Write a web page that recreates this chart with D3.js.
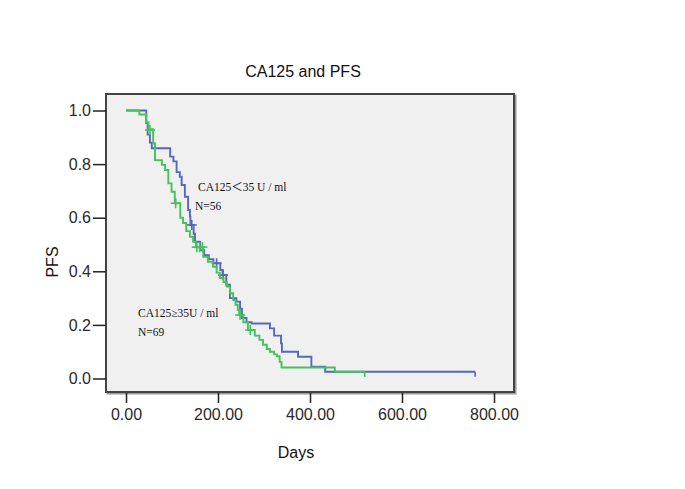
<!DOCTYPE html>
<html><head><meta charset="utf-8">
<script src="https://cdn.jsdelivr.net/npm/d3@7/dist/d3.min.js"></script>
<style>body{margin:0;background:#fff}svg{display:block}</style>
</head><body>
<svg id="c" width="685" height="489"></svg>
<script>
// Kaplan-Meier step data (time in days, survival)
const blueTimes = [0,44,47,52,56,96,103,110,117,121,128,135,139,140,147,150,161,170,180,190,205,210,218,226,240,248,252,262,273,313,322,337,339,374,403,433];
const blueSurv  = [1,0.953,0.91,0.88,0.859,0.828,0.81,0.77,0.753,0.722,0.678,0.629,0.604,0.573,0.54,0.51,0.479,0.46,0.445,0.43,0.405,0.386,0.35,0.30,0.287,0.26,0.226,0.21,0.205,0.187,0.16,0.131,0.10,0.081,0.044,0.025];
const blueEnd = 759;
const blueCensT = [143,197,211];
const blueCensS = [0.573,0.43,0.386];

const greenTimes = [0,29,44,49,59,63,78,85,92,99,106,118,124,131,139,146,152,168,178,189,197,204,212,219,226,233,238,243,246,255,265,280,290,298,306,313,322,328,334,338,454];
const greenSurv  = [1,0.985,0.955,0.93,0.878,0.815,0.797,0.778,0.728,0.697,0.654,0.60,0.58,0.55,0.529,0.51,0.49,0.454,0.435,0.417,0.395,0.375,0.36,0.343,0.318,0.293,0.275,0.256,0.237,0.21,0.181,0.16,0.144,0.126,0.11,0.10,0.09,0.083,0.062,0.041,0.025];
const greenEnd = 519;
const greenCensT = [52,108,154,160,166,248,270];
const greenCensS = [0.927,0.654,0.49,0.49,0.49,0.237,0.181];

const xTicks = [0,200,400,600,800];
const xTickLabels = ["0.00","200.00","400.00","600.00","800.00"];
const yTicks = [0,0.2,0.4,0.6,0.8,1.0];
const yTickLabels = ["0.0","0.2","0.4","0.6","0.8","1.0"];

const svg = d3.select("#c");
const frame = {l:106, t:94, r:514, b:392};
const x = d3.scaleLinear().domain([0,800]).range([126,494]);
const y = d3.scaleLinear().domain([0,1]).range([378.5,110.5]);

// frame with soft shadow
svg.append("rect").attr("x",frame.l+1.5).attr("y",frame.t+1.5)
  .attr("width",frame.r-frame.l).attr("height",frame.b-frame.t)
  .attr("fill","none").attr("stroke","#9a9a9a").attr("stroke-width",2);
svg.append("rect").attr("x",frame.l).attr("y",frame.t)
  .attr("width",frame.r-frame.l).attr("height",frame.b-frame.t)
  .attr("fill","#f0f0f0").attr("stroke","#444").attr("stroke-width",2);

// axes
const yAxis = d3.axisLeft(y).tickValues(yTicks).tickFormat((d,i)=>yTickLabels[i]).tickSize(13).tickPadding(2);
const gy = svg.append("g").attr("transform",`translate(${frame.l},0)`).call(yAxis);
gy.select(".domain").remove();
gy.selectAll("line").attr("stroke","#222").attr("stroke-width",1.5);
gy.selectAll("text").attr("font-family","Liberation Sans, Arial, sans-serif").attr("font-size",16).attr("fill","#2a2a2a");

const xAxis = d3.axisBottom(x).tickValues(xTicks).tickFormat((d,i)=>xTickLabels[i]).tickSize(10).tickPadding(6);
const gx = svg.append("g").attr("transform",`translate(0,${frame.b+1})`).call(xAxis);
gx.select(".domain").remove();
gx.selectAll("line").attr("stroke","#222").attr("stroke-width",1.5);
gx.selectAll("text").attr("font-family","Liberation Sans, Arial, sans-serif").attr("font-size",16).attr("fill","#2a2a2a");

// curves
function stepPts(ts, ss, end){
  const pts = ts.map((t,i)=>[t,ss[i]]);
  pts.push([end, ss[ss.length-1]]);
  return pts;
}
const line = d3.line().x(d=>x(d[0])).y(d=>y(d[1])).curve(d3.curveStepAfter);
function drawCurve(ts, ss, end, cT, cS, color){
  svg.append("path").datum(stepPts(ts,ss,end)).attr("d",line)
    .attr("fill","none").attr("stroke",color).attr("stroke-width",1.9);
  const g = svg.append("g").attr("stroke",color).attr("stroke-width",1.6);
  cT.forEach((t,i)=>{
    const cx=x(t), cy=y(cS[i]);
    g.append("line").attr("x1",cx-5).attr("x2",cx+5).attr("y1",cy).attr("y2",cy);
    g.append("line").attr("x1",cx).attr("x2",cx).attr("y1",cy-5).attr("y2",cy+5);
  });
  const ex=x(end), ey=y(ss[ss.length-1]);
  g.append("line").attr("x1",ex).attr("x2",ex).attr("y1",ey).attr("y2",ey+5);
}
drawCurve(blueTimes, blueSurv, blueEnd, blueCensT, blueCensS, "#5668bd");
drawCurve(greenTimes, greenSurv, greenEnd, greenCensT, greenCensS, "#45c25a");

// titles
svg.append("text").attr("x",303).attr("y",77).attr("text-anchor","middle")
  .attr("font-family","Liberation Sans, Arial, sans-serif").attr("font-size",16).attr("fill","#111").text("CA125 and PFS");
svg.append("text").attr("x",296).attr("y",458).attr("text-anchor","middle")
  .attr("font-family","Liberation Sans, Arial, sans-serif").attr("font-size",16).attr("fill","#111").text("Days");
svg.append("text").attr("transform","translate(58,262) rotate(-90)").attr("text-anchor","middle")
  .attr("font-family","Liberation Sans, Arial, sans-serif").attr("font-size",16).attr("fill","#111").text("PFS");

// annotations
const ann = [
  {t:"CA125＜35 U / ml", x:198, y:191},
  {t:"N=56", x:195, y:210},
  {t:"CA125≥35U / ml", x:138, y:317},
  {t:"N=69", x:138, y:336}
];
ann.forEach(a=>svg.append("text").attr("x",a.x).attr("y",a.y)
  .attr("font-family","Liberation Serif, 'Noto Sans CJK SC', serif").attr("font-size",11.5).attr("fill","#111").text(a.t));
</script>
</body></html>
